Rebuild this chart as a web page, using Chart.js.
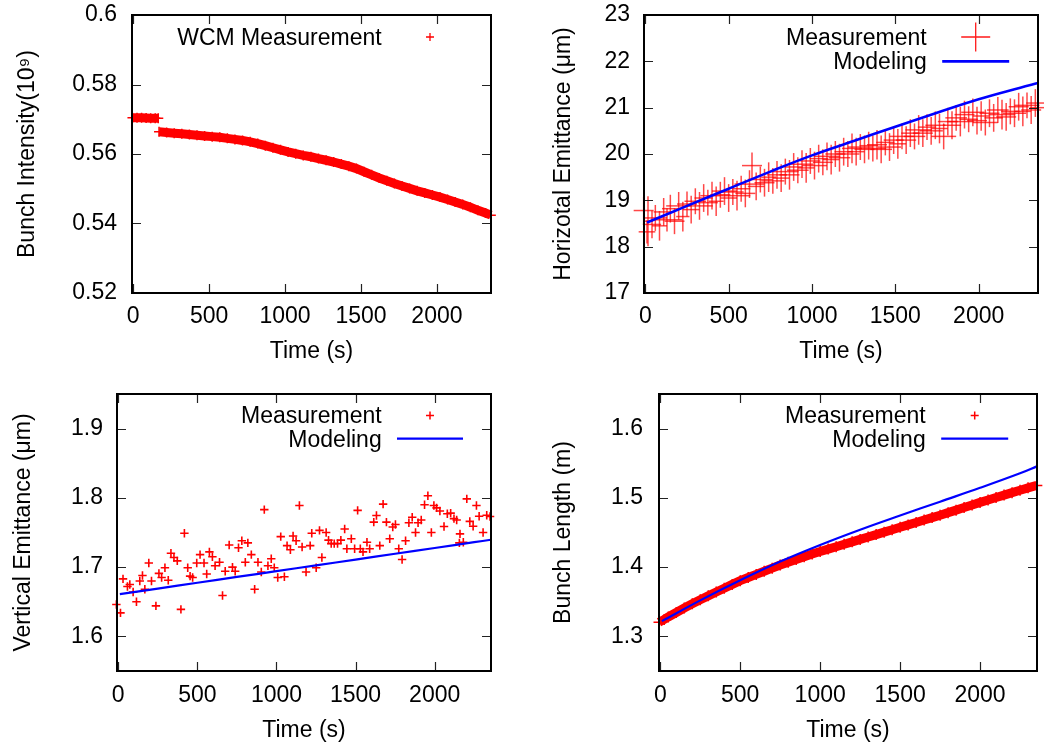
<!DOCTYPE html>
<html><head><meta charset="utf-8">
<script src="https://cdn.jsdelivr.net/npm/chart.js@4.4.1/dist/chart.umd.min.js"></script>
<style>
html,body{margin:0;padding:0;background:#fff;}
#wrap{position:relative;width:1044px;height:749px;overflow:hidden;background:#fff;}
canvas{position:absolute;}
</style></head><body>
<div id="wrap">
<canvas id="c1" width="522" height="372" style="left:0px;top:0px"></canvas>
<canvas id="c2" width="522" height="372" style="left:522px;top:0px"></canvas>
<canvas id="c3" width="522" height="372" style="left:0px;top:377px"></canvas>
<canvas id="c4" width="522" height="372" style="left:522px;top:377px"></canvas>
</div>
<script>
// ---------- tick labels ----------
const timeTicks = [0, 500, 1000, 1500, 2000];
const intensityTicks = [0.52, 0.54, 0.56, 0.58, 0.6];
const hEmitTicks = [17, 18, 19, 20, 21, 22, 23];
const vEmitTicks = [1.6, 1.7, 1.8, 1.9];
const lengthTicks = [1.3, 1.4, 1.5, 1.6];

// ---------- panel 1: WCM bunch intensity ----------
const wcmTimeA = [-5, 25, 55, 85, 115, 145, 165];
const wcmIntA  = [0.57045, 0.5704, 0.5704, 0.57035, 0.5703, 0.5703, 0.5703];
const wcmTimeB = [170, 220, 270, 320, 370, 420, 470, 520, 570, 620, 670, 720, 770, 820, 870, 920, 970, 1020, 1070, 1120, 1170, 1220, 1270, 1320, 1370, 1420, 1470, 1520, 1570, 1620, 1670, 1720, 1770, 1820, 1870, 1920, 1970, 2020, 2070, 2120, 2170, 2220, 2270, 2320, 2355];
const wcmIntB  = [0.5664, 0.5662, 0.5660, 0.5658, 0.5656, 0.5654, 0.5652, 0.5650, 0.5648, 0.5645, 0.5642, 0.5639, 0.5635, 0.5630, 0.5624, 0.5618, 0.5612, 0.5606, 0.5601, 0.5596, 0.5592, 0.5587, 0.5582, 0.5577, 0.5571, 0.5565, 0.5558, 0.5549, 0.5540, 0.5531, 0.5523, 0.5515, 0.5508, 0.5501, 0.5494, 0.5488, 0.5482, 0.5476, 0.5469, 0.5462, 0.5455, 0.5447, 0.5438, 0.5430, 0.5424];

// ---------- panel 2: horizontal emittance ----------
const hTime    = [-10, 10, 16, 40, 60, 85, 110, 130, 150, 175, 200, 225, 250, 275, 300, 325, 350, 375, 400, 425, 450, 475, 500, 525, 550, 575, 600, 625, 640, 665, 690, 715, 740, 765, 790, 815, 840, 865, 890, 915, 940, 965, 990, 1015, 1040, 1065, 1090, 1115, 1140, 1165, 1190, 1215, 1240, 1265, 1290, 1315, 1340, 1365, 1390, 1415, 1440, 1465, 1490, 1515, 1540, 1565, 1590, 1615, 1640, 1665, 1690, 1715, 1740, 1765, 1790, 1815, 1840, 1865, 1890, 1915, 1940, 1965, 1990, 2015, 2040, 2065, 2090, 2115, 2140, 2165, 2190, 2215, 2240, 2265, 2290, 2315, 2340, 2355];
const hEmit    = [18.78, 18.32, 18.55, 18.48, 18.62, 18.45, 18.75, 18.58, 18.82, 18.55, 18.88, 18.65, 18.92, 18.80, 18.98, 18.88, 19.05, 18.95, 19.10, 18.98, 19.12, 19.20, 19.05, 19.18, 19.10, 19.25, 19.15, 19.35, 19.75, 19.30, 19.45, 19.38, 19.50, 19.42, 19.55, 19.48, 19.62, 19.55, 19.72, 19.65, 19.78, 19.70, 19.85, 19.75, 19.90, 19.82, 19.95, 19.88, 20.00, 19.92, 20.05, 20.00, 20.12, 20.05, 20.15, 20.10, 20.18, 20.12, 20.20, 20.10, 20.25, 20.15, 20.30, 20.22, 20.38, 20.30, 20.45, 20.38, 20.52, 20.45, 20.58, 20.50, 20.62, 20.55, 20.38, 20.70, 20.62, 20.78, 20.70, 20.85, 20.75, 20.90, 20.72, 20.82, 20.68, 20.88, 20.78, 20.95, 20.85, 20.80, 20.92, 20.88, 21.02, 20.92, 21.05, 20.95, 21.10, 21.00];
const hTimeErr = [60, 50, 30, 55, 70, 45, 60, 90, 50, 60, 75, 40, 60, 50, 65, 80, 55, 60, 70, 45, 60, 75, 50, 65, 80, 55, 60, 90, 60, 50, 75, 60, 45, 70, 60, 50, 80, 60, 55, 65, 70, 50, 60, 75, 55, 60, 80, 50, 60, 65, 55, 70, 60, 50, 75, 60, 55, 80, 60, 65, 55, 70, 60, 50, 75, 60, 55, 65, 80, 60, 55, 70, 60, 50, 75, 60, 55, 65, 80, 60, 55, 70, 60, 50, 75, 60, 55, 65, 80, 60, 55, 70, 60, 50, 75, 60, 55, 50];
const hEmitErr = [0.30, 0.25, 0.54, 0.30, 0.28, 0.32, 0.30, 0.25, 0.30, 0.28, 0.30, 0.32, 0.27, 0.30, 0.28, 0.30, 0.30, 0.28, 0.30, 0.32, 0.28, 0.30, 0.30, 0.28, 0.32, 0.28, 0.30, 0.30, 0.28, 0.30, 0.28, 0.30, 0.32, 0.28, 0.30, 0.30, 0.28, 0.32, 0.30, 0.28, 0.30, 0.32, 0.28, 0.30, 0.30, 0.28, 0.30, 0.32, 0.28, 0.30, 0.30, 0.28, 0.32, 0.30, 0.28, 0.30, 0.30, 0.28, 0.32, 0.30, 0.28, 0.30, 0.30, 0.32, 0.28, 0.30, 0.30, 0.28, 0.32, 0.30, 0.28, 0.30, 0.30, 0.32, 0.28, 0.30, 0.30, 0.28, 0.32, 0.30, 0.28, 0.30, 0.30, 0.32, 0.28, 0.30, 0.30, 0.28, 0.32, 0.30, 0.28, 0.30, 0.30, 0.32, 0.28, 0.30, 0.30, 0.28];
const hModelTime = [10, 250, 500, 750, 1000, 1250, 1500, 1750, 2000, 2250, 2355];
const hModel     = [18.52, 18.88, 19.25, 19.62, 19.97, 20.28, 20.59, 20.89, 21.18, 21.43, 21.53];

// ---------- panel 3: vertical emittance ----------
const vTime = [-12, 14, 30, 58, 73, 94, 115, 136, 153, 168, 193, 210, 238, 257, 274, 295, 316, 333, 352, 373, 396, 418, 439, 454, 470, 496, 517, 542, 559, 576, 595, 612, 640, 659, 676, 701, 722, 739, 760, 781, 803, 819, 841, 862, 883, 904, 923, 946, 967, 986, 1008, 1027, 1050, 1067, 1088, 1105, 1124, 1145, 1162, 1187, 1213, 1223, 1251, 1272, 1287, 1314, 1329, 1346, 1365, 1386, 1407, 1431, 1445, 1473, 1494, 1513, 1530, 1547, 1572, 1589, 1615, 1632, 1653, 1674, 1695, 1716, 1735, 1752, 1773, 1794, 1816, 1837, 1858, 1879, 1895, 1915, 1936, 1957, 1979, 1995, 2012, 2033, 2059, 2080, 2101, 2122, 2139, 2156, 2160, 2181, 2203, 2222, 2243, 2264, 2281, 2306, 2329, 2350];
const vEmit = [1.646, 1.634, 1.683, 1.672, 1.675, 1.664, 1.650, 1.680, 1.688, 1.668, 1.706, 1.680, 1.644, 1.691, 1.685, 1.699, 1.681, 1.720, 1.714, 1.709, 1.639, 1.749, 1.699, 1.687, 1.685, 1.706, 1.718, 1.706, 1.690, 1.722, 1.715, 1.702, 1.707, 1.659, 1.694, 1.732, 1.700, 1.694, 1.728, 1.738, 1.707, 1.735, 1.718, 1.668, 1.707, 1.693, 1.783, 1.702, 1.712, 1.699, 1.685, 1.744, 1.686, 1.731, 1.725, 1.745, 1.738, 1.789, 1.729, 1.693, 1.731, 1.749, 1.699, 1.753, 1.714, 1.750, 1.739, 1.734, 1.734, 1.734, 1.739, 1.755, 1.7265, 1.741, 1.7265, 1.782, 1.7265, 1.722, 1.736, 1.7265, 1.765, 1.7745, 1.731, 1.791, 1.765, 1.741, 1.758, 1.7615, 1.7265, 1.711, 1.738, 1.764, 1.772, 1.750, 1.764, 1.768, 1.790, 1.803, 1.750, 1.789, 1.7855, 1.781, 1.7587, 1.777, 1.778, 1.770, 1.768, 1.735, 1.748, 1.736, 1.7985, 1.766, 1.759, 1.789, 1.7735, 1.750, 1.775, 1.773];
const vModelTime = [10, 250, 500, 750, 1000, 1250, 1500, 1750, 2000, 2250, 2355];
const vModel     = [1.661, 1.669, 1.6774, 1.6858, 1.6942, 1.7025, 1.7109, 1.7193, 1.7276, 1.736, 1.7395];

// ---------- panel 4: bunch length ----------
const lenTime = [-8, 25, 50, 100, 150, 200, 250, 300, 350, 400, 450, 500, 550, 600, 650, 700, 750, 800, 850, 900, 950, 1000, 1050, 1100, 1150, 1200, 1250, 1300, 1350, 1400, 1450, 1500, 1550, 1600, 1650, 1700, 1750, 1800, 1850, 1900, 1950, 2000, 2050, 2100, 2150, 2200, 2250, 2300, 2355];
const lenMeas = [1.3205, 1.3245, 1.328, 1.3345, 1.341, 1.347, 1.353, 1.3585, 1.364, 1.3695, 1.375, 1.3805, 1.385, 1.3895, 1.394, 1.3985, 1.403, 1.407, 1.411, 1.415, 1.419, 1.4225, 1.426, 1.4295, 1.433, 1.4365, 1.44, 1.4435, 1.447, 1.4505, 1.454, 1.4575, 1.461, 1.4645, 1.468, 1.4715, 1.475, 1.4787, 1.4823, 1.486, 1.4897, 1.4935, 1.497, 1.5005, 1.504, 1.5075, 1.511, 1.5145, 1.518];
const lenModelTime = [10, 250, 500, 750, 1000, 1250, 1500, 1750, 2000, 2250, 2355];
const lenModel     = [1.322, 1.352, 1.381, 1.408, 1.432, 1.454, 1.4745, 1.4945, 1.5145, 1.5355, 1.5455];

// ---------- helpers ----------
const FONT = "'Liberation Sans', Arial, Helvetica, sans-serif";
const FS = 23;
Chart.defaults.font.family = FONT;
Chart.defaults.font.size = FS;
Chart.defaults.color = '#000';

function xy(xs, ys){ return xs.map((x, i) => ({x: x, y: ys[i]})); }
function errorBars(ts, vs, dts, dvs){
  const pts = [];
  ts.forEach((t, i) => {
    pts.push({x: t - dts[i], y: vs[i]}, {x: t + dts[i], y: vs[i]}, {x: t, y: null});
    pts.push({x: t, y: vs[i] - dvs[i]}, {x: t, y: vs[i] + dvs[i]}, {x: t, y: null});
  });
  return pts;
}
function zeroPad(s){ s.paddingTop = 0; s.paddingBottom = 0; s.paddingLeft = 0; s.paddingRight = 0; }

function framePlugin(){
  return {
    id: 'gnuFrame',
    afterDatasetsDraw(chart){
      const ctx = chart.ctx, a = chart.chartArea;
      const xs = chart.scales.x, ys = chart.scales.y;
      ctx.save();
      ctx.strokeStyle = '#222';
      ctx.lineWidth = 1.2;
      ctx.beginPath();
      ys.ticks.forEach(t => {
        const p = Math.round(ys.getPixelForValue(t.value)) + 0.5;
        ctx.moveTo(a.left, p); ctx.lineTo(a.left + 9, p);
        ctx.moveTo(a.right, p); ctx.lineTo(a.right - 9, p);
      });
      xs.ticks.forEach(t => {
        const p = Math.round(xs.getPixelForValue(t.value)) + 0.5;
        ctx.moveTo(p, a.bottom); ctx.lineTo(p, a.bottom - 9);
        ctx.moveTo(p, a.top); ctx.lineTo(p, a.top + 9);
      });
      ctx.stroke();
      ctx.strokeStyle = '#000';
      ctx.lineWidth = 2;
      ctx.strokeRect(a.left, a.top, a.right - a.left, a.bottom - a.top);
      ctx.restore();
    }
  };
}

function legendPlugin(cfg){
  return {
    id: 'gnuLegend',
    afterDraw(chart){
      const ctx = chart.ctx, a = chart.chartArea;
      ctx.save();
      ctx.font = FS + 'px ' + FONT;
      ctx.fillStyle = '#000';
      ctx.textAlign = 'right';
      ctx.textBaseline = 'alphabetic';
      cfg.items.forEach((it, i) => {
        const base = a.top + cfg.baseline + i * cfg.gap;
        const label = chart.data.datasets[it.ds].label;
        ctx.fillText(label, a.right - cfg.textRight, base);
        const cx = a.right - cfg.sampleX, cy = base - 7.8;
        ctx.strokeStyle = it.color;
        ctx.lineWidth = it.width;
        ctx.beginPath();
        if (it.kind === 'line') {
          ctx.moveTo(cx - cfg.lineHalf, cy); ctx.lineTo(cx + cfg.lineHalf, cy);
        } else {
          ctx.moveTo(cx - it.size, cy); ctx.lineTo(cx + it.size, cy);
          ctx.moveTo(cx, cy - it.size); ctx.lineTo(cx, cy + it.size);
        }
        ctx.stroke();
      });
      ctx.restore();
    }
  };
}

function makeChart(id, cfg){
  return new Chart(document.getElementById(id), {
    type: 'scatter',
    data: {datasets: cfg.datasets},
    options: {
      responsive: false,
      animation: false,
      events: [],
      layout: {padding: cfg.pad},
      plugins: {legend: {display: false}, tooltip: {enabled: false}},
      scales: {
        x: {
          type: 'linear', position: 'bottom', min: -8, max: 2356,
          grid: {display: false, drawTicks: false}, border: {display: false},
          afterBuildTicks: s => { s.ticks = timeTicks.map(v => ({value: v})); },
          ticks: {padding: cfg.xTickPad, maxRotation: 0, autoSkip: false, color: '#000', font: {size: FS},
                  callback: v => String(v)},
          title: {display: true, text: 'Time (s)', color: '#000', font: {size: FS},
                  padding: {top: 0, bottom: cfg.xTitlePad}},
          afterFit: s => { s.height = cfg.xH; zeroPad(s); }
        },
        y: {
          type: 'linear', position: 'left', min: cfg.yMin, max: cfg.yMax,
          grid: {display: false, drawTicks: false}, border: {display: false},
          afterBuildTicks: s => { s.ticks = cfg.yTicks.map(v => ({value: v})); },
          ticks: {padding: cfg.yTickPad, autoSkip: false, color: '#000', font: {size: FS},
                  callback: v => String(+Number(v).toFixed(cfg.dec))},
          title: {display: true, text: cfg.yTitle, color: '#000', font: {size: FS},
                  padding: {top: cfg.yTitlePad, bottom: 0}},
          afterFit: s => { s.width = cfg.yW; zeroPad(s); }
        }
      }
    },
    plugins: [framePlugin(), legendPlugin(cfg.legend)]
  });
}

const RED = '#ff0000';
const BLUE = '#0000ff';

// ---------- Panel 1 ----------
makeChart('c1', {
  pad: {left: 0, right: 31, top: 15, bottom: 0},
  yW: 132, xH: 79, xTickPad: 10, xTitlePad: 6.4, yTickPad: 15, yTitlePad: 13.7,
  yMin: 0.52, yMax: 0.6, yTicks: intensityTicks, dec: 2,
  yTitle: 'Bunch Intensity(10\u2079)',
  datasets: [
    {label: 'WCM Measurement', data: xy(wcmTimeA, wcmIntA), showLine: true, borderColor: RED, borderWidth: 9,
     pointStyle: 'cross', pointRadius: 5, pointBorderWidth: 1.5, pointBorderColor: RED, clip: false, order: 1},
    {label: 'WCM Measurement', data: xy(wcmTimeB, wcmIntB), showLine: true, borderColor: RED, borderWidth: 9,
     pointStyle: 'cross', pointRadius: 5, pointBorderWidth: 1.5, pointBorderColor: RED, clip: false, order: 1}
  ],
  legend: {baseline: 29.8, gap: 24.4, textRight: 109.3, sampleX: 61, lineHalf: 33,
           items: [{ds: 0, kind: 'cross', size: 4, color: RED, width: 1.3}]}
});

// ---------- Panel 2 ----------
makeChart('c2', {
  pad: {left: 0, right: 6, top: 15, bottom: 0},
  yW: 122, xH: 79, xTickPad: 10, xTitlePad: 6.4, yTickPad: 14, yTitlePad: 28.2,
  yMin: 17, yMax: 23, yTicks: hEmitTicks, dec: 0,
  yTitle: 'Horizotal Emittance (\u03bcm)',
  datasets: [
    {label: 'Modeling', data: xy(hModelTime, hModel), showLine: true, borderColor: BLUE, borderWidth: 2.6,
     tension: 0.4, pointRadius: 0, clip: false, order: 0},
    {label: 'Measurement', data: errorBars(hTime, hEmit, hTimeErr, hEmitErr), showLine: true,
     borderColor: 'rgba(255,0,0,0.72)', borderWidth: 1.5, pointRadius: 0, spanGaps: false,
     segment: {}, clip: false, order: 1}
  ],
  legend: {baseline: 29.8, gap: 24.4, textRight: 111.3, sampleX: 62.3, lineHalf: 33.5,
           items: [{ds: 1, kind: 'cross', size: 14.5, color: 'rgba(255,0,0,0.9)', width: 1.3},
                   {ds: 0, kind: 'line', color: BLUE, width: 2.6}]}
});

// ---------- Panel 3 ----------
makeChart('c3', {
  pad: {left: 0, right: 31, top: 17, bottom: 0},
  yW: 117, xH: 78, xTickPad: 10.7, xTitlePad: 5, yTickPad: 14, yTitlePad: 10.2,
  yMin: 1.55, yMax: 1.95, yTicks: vEmitTicks, dec: 1,
  yTitle: 'Vertical Emittance (\u03bcm)',
  datasets: [
    {label: 'Modeling', data: xy(vModelTime, vModel), showLine: true, borderColor: BLUE, borderWidth: 2.2,
     tension: 0.4, pointRadius: 0, clip: false, order: 0},
    {label: 'Measurement', data: xy(vTime, vEmit), showLine: false, pointStyle: 'cross', pointRadius: 4.2,
     pointBorderWidth: 1.6, pointBorderColor: RED, borderColor: RED, clip: false, order: 1}
  ],
  legend: {baseline: 29.2, gap: 23.3, textRight: 109.3, sampleX: 61, lineHalf: 33,
           items: [{ds: 1, kind: 'cross', size: 4, color: RED, width: 1.5},
                   {ds: 0, kind: 'line', color: BLUE, width: 2.2}]}
});

// ---------- Panel 4 ----------
makeChart('c4', {
  pad: {left: 0, right: 6, top: 17, bottom: 0},
  yW: 137, xH: 78, xTickPad: 10.7, xTitlePad: 5, yTickPad: 16, yTitlePad: 28.2,
  yMin: 1.25, yMax: 1.65, yTicks: lengthTicks, dec: 1,
  yTitle: 'Bunch Length (m)',
  datasets: [
    {label: 'Modeling', data: xy(lenModelTime, lenModel), showLine: true, borderColor: BLUE, borderWidth: 2.2,
     tension: 0.4, pointRadius: 0, clip: false, order: 0},
    {label: 'Measurement', data: xy(lenTime, lenMeas), showLine: true, borderColor: RED, borderWidth: 9,
     pointStyle: 'cross', pointRadius: 5.5, pointBorderWidth: 1.5, pointBorderColor: RED, clip: false, order: 1}
  ],
  legend: {baseline: 29.2, gap: 23.3, textRight: 111.3, sampleX: 62.3, lineHalf: 33.5,
           items: [{ds: 1, kind: 'cross', size: 4, color: RED, width: 1.5},
                   {ds: 0, kind: 'line', color: BLUE, width: 2.2}]}
});
</script>
</body></html>
